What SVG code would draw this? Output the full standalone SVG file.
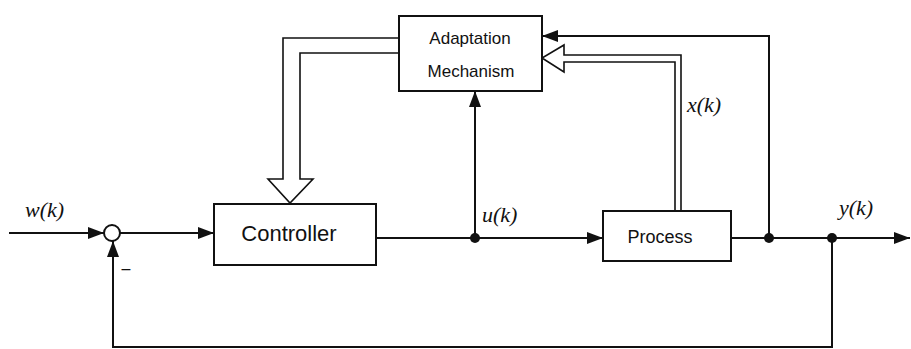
<svg xmlns="http://www.w3.org/2000/svg" width="911" height="349" viewBox="0 0 911 349">
<style>
.box{fill:#fff;stroke:#111;stroke-width:2}
.ln{fill:none;stroke:#111;stroke-width:2}
.dbl{fill:none;stroke:#111;stroke-width:1.6;stroke-linejoin:miter}
.bt{font-family:"Liberation Sans",Arial,sans-serif;fill:#111;text-anchor:middle}
.lb{font-family:"Liberation Serif","Times New Roman",serif;font-style:italic;font-size:22px;fill:#111}
.dot{fill:#111}
</style>
<defs>
<marker id="ah" markerUnits="userSpaceOnUse" markerWidth="17" markerHeight="12" refX="16" refY="6" orient="auto">
<path d="M0,0 L16,6 L0,12 z" fill="#111"/>
</marker>
</defs>
<rect width="911" height="349" fill="#fff"/>
<g id="connectors">
<path class="ln" d="M9,233 H104" marker-end="url(#ah)"/>
<path class="ln" d="M120,233 H214" marker-end="url(#ah)"/>
<path class="ln" d="M376,238 H603" marker-end="url(#ah)"/>
<path class="ln" d="M475,238 V91" marker-end="url(#ah)"/>
<path class="ln" d="M731,238 H910" marker-end="url(#ah)"/>
<path class="ln" d="M769,238 V36 H542" marker-end="url(#ah)"/>
<path class="ln" d="M832,238 V347 H113 V241" marker-end="url(#ah)"/>
<path class="dbl" d="M399,38 H283 V179 H268 L290,203 L313,179 H300 V53 H399"/>
<path class="dbl" d="M681,211 V55 H564 V45 L542,58 L564,72 V62 H675 V211"/>
<circle class="dot" cx="475" cy="238" r="5"/>
<circle class="dot" cx="769" cy="238" r="5"/>
<circle class="dot" cx="832" cy="238" r="5"/>
</g>
<g id="sum">
<circle cx="112" cy="233" r="8" fill="#fff" stroke="#111" stroke-width="2"/>
<text x="126" y="274" font-family="Liberation Sans,Arial,sans-serif" font-size="16" fill="#111" text-anchor="middle">–</text>
</g>
<g id="adaptation">
<rect class="box" x="399" y="16" width="143" height="75"/>
<text class="bt" x="470" y="44" font-size="17">Adaptation</text>
<text class="bt" x="471" y="77" font-size="17">Mechanism</text>
</g>
<g id="controller">
<rect class="box" x="214" y="204" width="162" height="61"/>
<text class="bt" x="289" y="241" font-size="22">Controller</text>
</g>
<g id="process">
<rect class="box" x="603" y="211" width="128" height="50"/>
<text class="bt" x="660" y="243" font-size="18">Process</text>
</g>
<g id="labels">
<text class="lb" x="25" y="217">w(k)</text>
<text class="lb" x="482" y="222">u(k)</text>
<text class="lb" x="687" y="112">x(k)</text>
<text class="lb" x="839" y="215">y(k)</text>
</g>
</svg>
